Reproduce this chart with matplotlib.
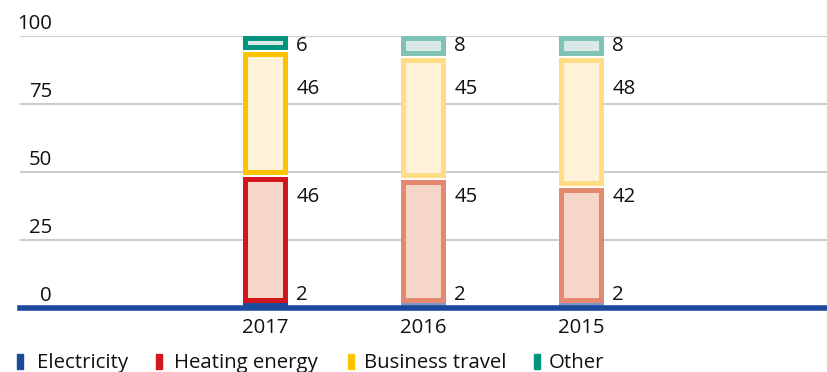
import matplotlib
matplotlib.use("Agg")
import matplotlib.pyplot as plt
from matplotlib.patches import Rectangle
import matplotlib.transforms as mtransforms
import numpy as np

# ---------------- data ----------------
years = ["2017", "2016", "2015"]
electricity = [2, 2, 2]
heating = [46, 45, 42]
travel = [46, 45, 48]
other = [6, 8, 8]
series_names = ["Electricity", "Heating energy", "Business travel", "Other"]
y_ticks = [0, 25, 50, 75, 100]

# ---------------- styles ----------------
FONT = "Open Sans"
plt.rcParams["font.family"] = [FONT, "DejaVu Sans"]
TXT = "#111111"
BLUE = "#1b4a9c"
edge_current = ["#1b4a9c", "#d2161e", "#fdc300", "#00957c"]
edge_past = ["#7f98cc", "#e4896f", "#fedd85", "#7fc2b6"]
fills = [None, "#f6d6c8", "#fff2d9", "#d8e9e6"]
label_rows = [4.8, 40.8, 80.5, 96.3]   # layout: y position of value-label rows
FS = 14.7

W, H, DPI = 827, 372, 100
fig = plt.figure(figsize=(W / DPI, H / DPI), dpi=DPI)
ax_l, ax_r, ax_b, ax_t = 20, 827, 308, 36  # pixel frame
ax = fig.add_axes([ax_l / W, 1 - ax_b / H, (ax_r - ax_l) / W, (ax_b - ax_t) / H])
xlim = (-1.553, 3.553)
ax.set_xlim(*xlim)
ax.set_ylim(0, 100)

px_x = (xlim[1] - xlim[0]) / (ax_r - ax_l)
px_y = 100 / (ax_b - ax_t)

x = np.arange(len(years))
bw = 0.29
border = 5.0
gap = 2.2

for sp in ax.spines.values():
    sp.set_visible(False)

# grid lines
for t in y_ticks[1:]:
    ax.axhline(t, color="#bdbdbd", lw=1.1, zorder=0)

series = [electricity, heating, travel, other]
bottoms = np.zeros(len(years))
for i, vals in enumerate(series):
    vals = np.array(vals, dtype=float)
    for j in range(len(years)):
        ec = edge_current[i] if j == 0 else edge_past[i]
        g = gap * px_y if i >= 2 else 0.0
        b = bottoms[j] + g
        h = vals[j] - g
        ax.bar(x[j], h, bottom=b, width=bw, color=ec, zorder=2, linewidth=0)
        if fills[i] is not None:
            ax.bar(x[j], h - 2 * border * px_y, bottom=b + border * px_y,
                   width=bw - 2 * border * px_x, color=fills[i], zorder=3, linewidth=0)
        ax.text(x[j] + bw / 2 + 8 * px_x, label_rows[i], f"{int(vals[j])}",
                ha="left", va="center", fontsize=FS, color=TXT)
    bottoms += vals

# baseline
ax.axhline(0, color=BLUE, lw=4.0, zorder=6, clip_on=False)

# x tick labels
ax.set_xticks(x)
ax.set_xticklabels(years, fontsize=FS, color=TXT)
ax.tick_params(axis="x", length=0, pad=7)
ax.set_yticks([])

# y tick labels above grid lines
off = mtransforms.offset_copy(ax.get_yaxis_transform(), fig=fig, x=0, y=7, units="dots")
for t in y_ticks:
    ax.text((52 - ax_l) / (ax_r - ax_l), t, str(t), transform=off, ha="right",
            va="baseline", fontsize=FS, color=TXT)

# legend
leg_sq_x = [17, 156, 348, 534]
leg_tx_x = [37, 174, 364, 549]
for i, name in enumerate(series_names):
    fig.patches.append(Rectangle((leg_sq_x[i] / W, 1 - 369 / H), 6 / W, 15 / H,
                                 transform=fig.transFigure, color=edge_current[i]))
    fig.text(leg_tx_x[i] / W, 1 - 368 / H, name, ha="left", va="baseline",
             fontsize=FS, color=TXT)

fig.savefig("out.png", dpi=DPI)
